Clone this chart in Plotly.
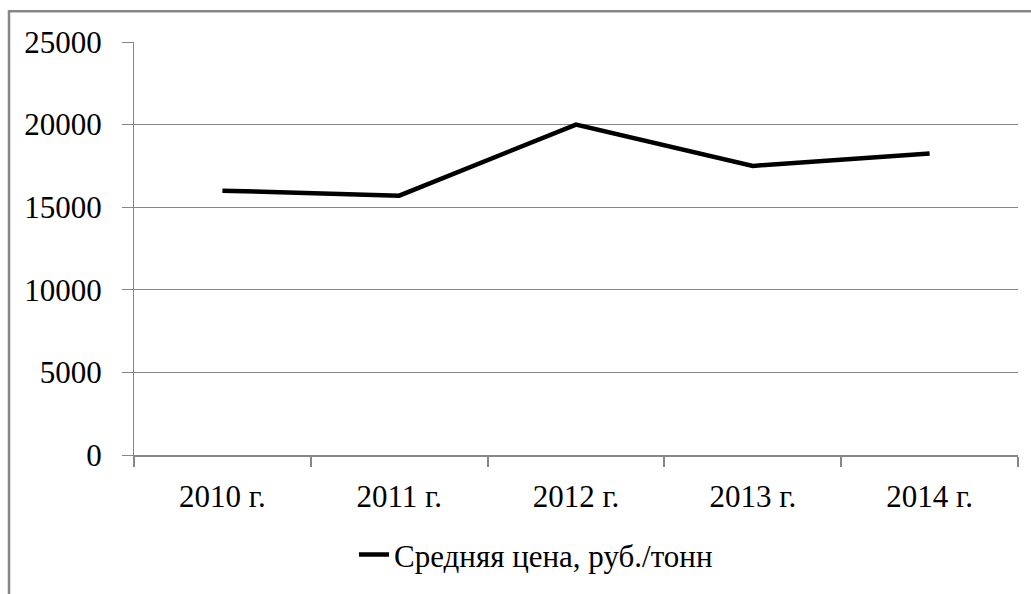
import plotly.graph_objects as go

categories = ["2010 г.", "2011 г.", "2012 г.", "2013 г.", "2014 г."]
values = [16000, 15700, 20000, 17500, 18250]
series_name = "Средняя цена, руб./тонн"
y_ticks = [0, 5000, 10000, 15000, 20000, 25000]

W, H = 1031, 594
L, R, T, B = 134, 13, 42, 134
pw, ph = W - L - R, H - T - B

grey = "#878787"
font = dict(family="Liberation Serif", size=31, color="#000000")

fig = go.Figure()
fig.add_trace(go.Scatter(
    x=categories, y=values, mode="lines", name=series_name,
    line=dict(color="#000000", width=4.5),
))

fig.update_layout(
    width=W, height=H,
    margin=dict(l=L, r=R, t=T, b=B),
    paper_bgcolor="white", plot_bgcolor="white",
    font=font,
    showlegend=True,
    legend=dict(
        orientation="h", x=(354 - L) / pw, xanchor="left",
        y=(T + ph - 561) / ph, yanchor="middle",
        font=font, bgcolor="rgba(0,0,0,0)", itemwidth=30,
    ),
    xaxis=dict(
        type="category", tickson="boundaries", showgrid=False,
        showline=True, linecolor=grey, linewidth=2,
        ticks="outside", ticklen=10, tickwidth=2, tickcolor=grey,
        tickfont=font, ticklabelstandoff=13,
        range=[-0.5, 4.5],
    ),
    yaxis=dict(
        range=[0, 25000], tickvals=y_ticks, ticktext=[str(v) for v in y_ticks],
        showgrid=True, gridcolor=grey, gridwidth=1,
        showline=True, linecolor=grey, linewidth=1,
        ticks="outside", ticklen=11, tickwidth=1, tickcolor=grey,
        tickfont=font, ticklabelstandoff=14, zeroline=False,
    ),
    shapes=[dict(
        type="rect", xref="paper", yref="paper",
        x0=(9 - L) / pw, x1=(W + 20 - L) / pw,
        y0=(T + ph - (H + 20)) / ph, y1=(T + ph - 11) / ph,
        line=dict(color=grey, width=2.5), fillcolor="rgba(0,0,0,0)", layer="below",
    )],
)

fig.write_html("out.html", config={"displayModeBar": False},
               post_script="document.body.style.margin='0';")
